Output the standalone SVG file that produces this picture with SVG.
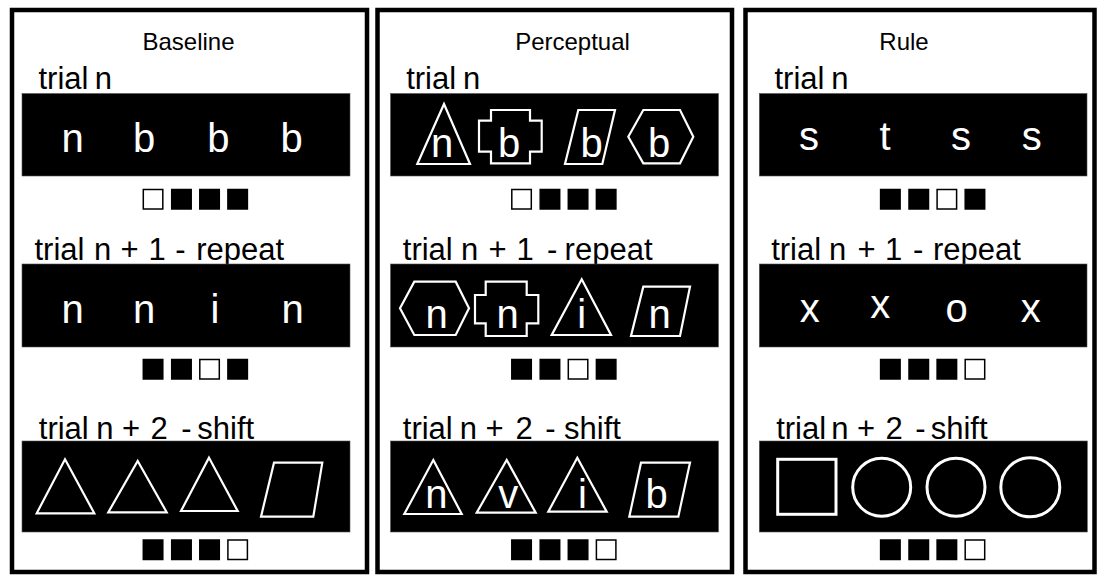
<svg xmlns="http://www.w3.org/2000/svg" width="1099" height="575" viewBox="0 0 1099 575">
<style>
.panel{fill:#fff;stroke:#000;stroke-width:4.5}
.screen{fill:#000;stroke:#555;stroke-width:0.6}
.lbl{font-family:"Liberation Sans",Arial,sans-serif;font-size:31px;fill:#000}
.title{font-family:"Liberation Sans",Arial,sans-serif;font-size:24px;fill:#000;text-anchor:middle}
.stim{font-family:"Liberation Sans",Arial,sans-serif;font-size:40px;fill:#fff;text-anchor:middle}
.shape{fill:none;stroke:#fff;stroke-width:2.2;stroke-linejoin:miter}
.shape3{fill:none;stroke:#fff;stroke-width:3}
.on{fill:#000;stroke:#000;stroke-width:1.5}
.off{fill:#fff;stroke:#000;stroke-width:1.5}
</style>
<rect x="0" y="0" width="1099" height="575" fill="#fff"/>

<!-- Panel 1: Baseline -->
<g id="panel-baseline">
  <rect class="panel" x="12" y="10" width="355" height="562"/>
  <text class="title" x="188.5" y="50">Baseline</text>
  <g id="baseline-trial-n">
    <text class="lbl" y="89"><tspan x="38.5">trial</tspan><tspan x="94.7">n</tspan></text>
    <rect class="screen" x="22" y="93.5" width="328" height="82.5"/>
    <text class="stim" y="152"><tspan x="72.5">n</tspan><tspan x="144">b</tspan><tspan x="218.3">b</tspan><tspan x="291.7">b</tspan></text>
    <rect class="off" x="143.3" y="189.5" width="19.5" height="19.5"/>
    <rect class="on" x="171.7" y="189.5" width="19.5" height="19.5"/>
    <rect class="on" x="199.8" y="189.5" width="19.5" height="19.5"/>
    <rect class="on" x="227.9" y="189.5" width="19.5" height="19.5"/>
  </g>
  <g id="baseline-trial-n1">
    <text class="lbl" y="260"><tspan x="34.5">trial</tspan><tspan x="94">n</tspan><tspan x="120.5">+</tspan><tspan x="148.4">1</tspan><tspan x="175.3">-</tspan><tspan x="196.3">repeat</tspan></text>
    <rect class="screen" x="22" y="264" width="328" height="83"/>
    <text class="stim" y="322.5"><tspan x="72.5">n</tspan><tspan x="144.2">n</tspan><tspan x="215">i</tspan><tspan x="292.5">n</tspan></text>
    <rect class="on" x="143.3" y="359.5" width="19.5" height="19.5"/>
    <rect class="on" x="171.7" y="359.5" width="19.5" height="19.5"/>
    <rect class="off" x="199.8" y="359.5" width="19.5" height="19.5"/>
    <rect class="on" x="227.9" y="359.5" width="19.5" height="19.5"/>
  </g>
  <g id="baseline-trial-n2">
    <text class="lbl" y="439"><tspan x="38.8">trial</tspan><tspan x="96.3">n</tspan><tspan x="122">+</tspan><tspan x="150.4">2</tspan><tspan x="181.3">-</tspan><tspan x="197.3">shift</tspan></text>
    <rect class="screen" x="22" y="441" width="328" height="91"/>
    <polygon class="shape" points="65,459.3 94.3,513.3 36.7,513.3"/>
    <polygon class="shape" points="137.7,461 166.7,512.3 108.3,512.3"/>
    <polygon class="shape" points="209,457.7 237.7,511 181,511"/>
    <polygon class="shape" points="274,462.7 322.3,462.7 313.3,516.7 261,516.7"/>
    <rect class="on" x="143.3" y="540" width="19.5" height="19.5"/>
    <rect class="on" x="171.7" y="540" width="19.5" height="19.5"/>
    <rect class="on" x="199.8" y="540" width="19.5" height="19.5"/>
    <rect class="off" x="227.9" y="540" width="19.5" height="19.5"/>
  </g>
</g>

<!-- Panel 2: Perceptual -->
<g id="panel-perceptual">
  <rect class="panel" x="377.5" y="10" width="354.5" height="562"/>
  <text class="title" x="572.5" y="50">Perceptual</text>
  <g id="perceptual-trial-n">
    <text class="lbl" y="89"><tspan x="406.2">trial</tspan><tspan x="463">n</tspan></text>
    <rect class="screen" x="390.5" y="93.5" width="328" height="82.5"/>
    <polygon class="shape" points="444,104 470,164 417.3,164"/>
    <polygon class="shape" points="491,110 530,110 530,120.7 541.7,120.7 541.7,151.7 530,151.7 530,163.3 491,163.3 491,151.7 479,151.7 479,120.7 491,120.7"/>
    <polygon class="shape" points="578.3,110 615,110 602.3,164 565,164"/>
    <polygon class="shape" points="628.3,136.7 643.3,110 680,110 693.3,136.7 680,163.3 643.3,163.3"/>
    <text class="stim" y="156.7"><tspan x="442">n</tspan><tspan x="509">b</tspan><tspan x="591.7">b</tspan><tspan x="659">b</tspan></text>
    <rect class="off" x="511.8" y="189.5" width="19.5" height="19.5"/>
    <rect class="on" x="540.2" y="189.5" width="19.5" height="19.5"/>
    <rect class="on" x="568.3" y="189.5" width="19.5" height="19.5"/>
    <rect class="on" x="596.4" y="189.5" width="19.5" height="19.5"/>
  </g>
  <g id="perceptual-trial-n1">
    <text class="lbl" y="260"><tspan x="402.8">trial</tspan><tspan x="461">n</tspan><tspan x="488.5">+</tspan><tspan x="516.5">1</tspan><tspan x="547">-</tspan><tspan x="564.6">repeat</tspan></text>
    <rect class="screen" x="390.5" y="264" width="328" height="83"/>
    <polygon class="shape" points="400,308.3 414.3,281.7 455.7,281.7 469,308.3 455.7,335 414.3,335"/>
    <polygon class="shape" points="485.7,281.7 526.7,281.7 526.7,295 538.3,295 538.3,323.3 526.7,323.3 526.7,336 485.7,336 485.7,323.3 475,323.3 475,295 485.7,295"/>
    <polygon class="shape" points="581.7,279.3 611,335 551.7,335"/>
    <polygon class="shape" points="643.3,286.7 690,286.7 680,336 631,336"/>
    <text class="stim" y="328.3"><tspan x="436.7">n</tspan><tspan x="507.5">n</tspan><tspan x="581.7">i</tspan><tspan x="659.5">n</tspan></text>
    <rect class="on" x="511.8" y="359.5" width="19.5" height="19.5"/>
    <rect class="on" x="540.2" y="359.5" width="19.5" height="19.5"/>
    <rect class="off" x="568.3" y="359.5" width="19.5" height="19.5"/>
    <rect class="on" x="596.4" y="359.5" width="19.5" height="19.5"/>
  </g>
  <g id="perceptual-trial-n2">
    <text class="lbl" y="439"><tspan x="402.8">trial</tspan><tspan x="459.7">n</tspan><tspan x="485.5">+</tspan><tspan x="515.4">2</tspan><tspan x="545.3">-</tspan><tspan x="564">shift</tspan></text>
    <rect class="screen" x="390.5" y="441" width="328" height="91"/>
    <polygon class="shape" points="433.3,460 461.7,514 404.3,514"/>
    <polygon class="shape" points="506.7,460 535.7,512.7 476.7,512.7"/>
    <polygon class="shape" points="577.3,457.7 606.7,511.7 548.3,511.7"/>
    <polygon class="shape" points="641,462.7 690,462.7 678.3,516.7 629.3,516.7"/>
    <text class="stim" y="508.3"><tspan x="436.3">n</tspan><tspan x="508.3">v</tspan><tspan x="582.5">i</tspan><tspan x="656.7">b</tspan></text>
    <rect class="on" x="511.8" y="540" width="19.5" height="19.5"/>
    <rect class="on" x="540.2" y="540" width="19.5" height="19.5"/>
    <rect class="on" x="568.3" y="540" width="19.5" height="19.5"/>
    <rect class="off" x="596.4" y="540" width="19.5" height="19.5"/>
  </g>
</g>

<!-- Panel 3: Rule -->
<g id="panel-rule">
  <rect class="panel" x="745.5" y="10" width="349" height="562"/>
  <text class="title" x="904" y="50">Rule</text>
  <g id="rule-trial-n">
    <text class="lbl" y="89"><tspan x="774.5">trial</tspan><tspan x="831.3">n</tspan></text>
    <rect class="screen" x="759.3" y="93.5" width="327.7" height="82.5"/>
    <text class="stim" y="149.5"><tspan x="809">s</tspan><tspan x="885">t</tspan><tspan x="961">s</tspan><tspan x="1031.7">s</tspan></text>
    <rect class="on" x="880.6" y="189.5" width="19.5" height="19.5"/>
    <rect class="on" x="909" y="189.5" width="19.5" height="19.5"/>
    <rect class="off" x="937.1" y="189.5" width="19.5" height="19.5"/>
    <rect class="on" x="965.2" y="189.5" width="19.5" height="19.5"/>
  </g>
  <g id="rule-trial-n1">
    <text class="lbl" y="260"><tspan x="771.2">trial</tspan><tspan x="829">n</tspan><tspan x="857.5">+</tspan><tspan x="885">1</tspan><tspan x="913">-</tspan><tspan x="933">repeat</tspan></text>
    <rect class="screen" x="759.3" y="264" width="327.7" height="83"/>
    <text class="stim" y="321.5"><tspan x="809.7">x</tspan><tspan x="880.3" y="318.3">x</tspan><tspan x="956.7" y="321.5">o</tspan><tspan x="1030.8">x</tspan></text>
    <rect class="on" x="880.6" y="359.5" width="19.5" height="19.5"/>
    <rect class="on" x="909" y="359.5" width="19.5" height="19.5"/>
    <rect class="on" x="937.1" y="359.5" width="19.5" height="19.5"/>
    <rect class="off" x="965.2" y="359.5" width="19.5" height="19.5"/>
  </g>
  <g id="rule-trial-n2">
    <text class="lbl" y="439"><tspan x="776.2">trial</tspan><tspan x="831.3">n</tspan><tspan x="857">+</tspan><tspan x="885.4">2</tspan><tspan x="915.3">-</tspan><tspan x="930.7">shift</tspan></text>
    <rect class="screen" x="759.3" y="441" width="328" height="91"/>
    <rect class="shape3" x="777.7" y="459.3" width="58.3" height="55"/>
    <circle class="shape3" cx="881.7" cy="487.3" r="29"/>
    <circle class="shape3" cx="956" cy="487.3" r="29"/>
    <circle class="shape3" cx="1030.3" cy="487.3" r="29.5"/>
    <rect class="on" x="880.6" y="540" width="19.5" height="19.5"/>
    <rect class="on" x="909" y="540" width="19.5" height="19.5"/>
    <rect class="on" x="937.1" y="540" width="19.5" height="19.5"/>
    <rect class="off" x="965.2" y="540" width="19.5" height="19.5"/>
  </g>
</g>
<g id="connectors"/>
</svg>
